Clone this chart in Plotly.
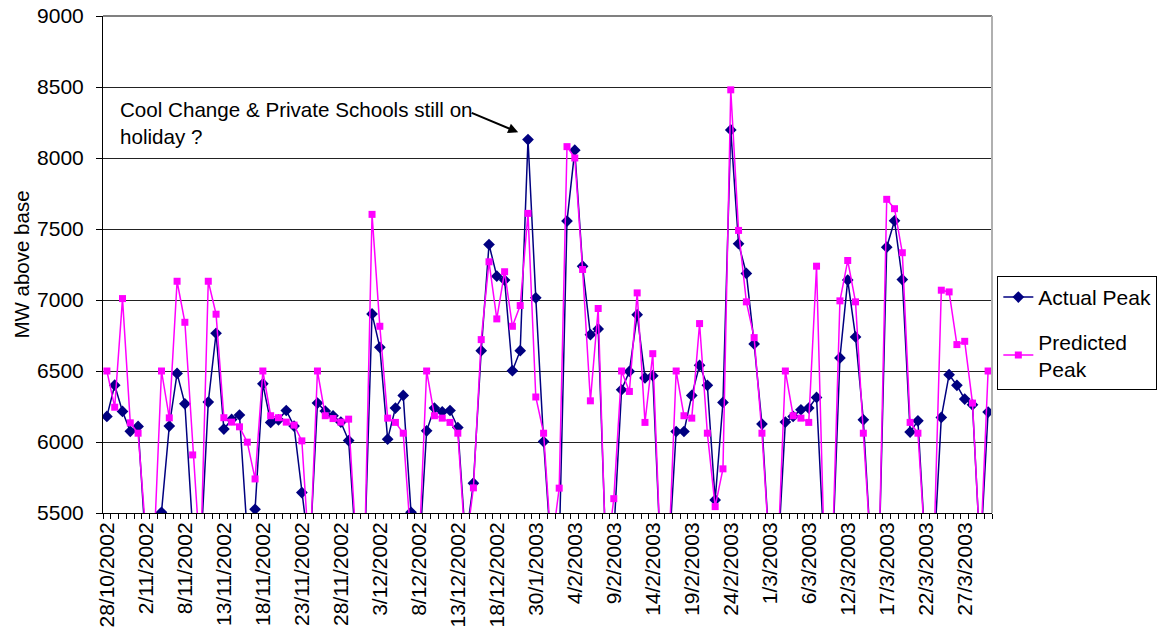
import plotly.graph_objects as go

# Daily peak demand (MW above base), one entry per reporting day
actual_peak = [
    6180, 6400, 6215, 6075, 6110, 5250, 5150, 5505, 6112, 6483,
    6269, 5380, 5200, 6281, 6766, 6091, 6159, 6190, 5350, 5526,
    6410, 6138, 6156, 6222, 6112, 5644, 5200, 6274, 6218, 6185,
    6140, 6010, 5200, 5150, 6902, 6667, 6020, 6239, 6328, 5505,
    5150, 6079, 6239, 6213, 6222, 6102, 5300, 5710, 6643, 7391,
    7168, 7140, 6502, 6643, 8130, 7015, 6003, 5200, 5250, 7556,
    8055, 7238, 6756, 6796, 5200, 5350, 6368, 6497, 6897, 6451,
    6467, 5200, 5150, 6074, 6074, 6328, 6540, 6399, 5592, 6279,
    8198, 7396, 7187, 6691, 6126, 5200, 5150, 6140, 6180, 6227,
    6239, 6314, 5200, 5150, 6592, 7140, 6740, 6156, 5200, 5150,
    7372, 7558, 7144, 6070, 6149, 5200, 5150, 6173, 6474, 6399,
    6302, 6262, 5200, 6211,
]

predicted_peak = [
    6500, 6245, 7010, 6135, 6062, 5350, 5200, 6500, 6170, 7132,
    6843, 5909, 5150, 7132, 6900, 6171, 6140, 6107, 5999, 5740,
    6500, 6185, 6171, 6140, 6119, 6008, 5150, 6500, 6185, 6165,
    6140, 6161, 5250, 5100, 7603, 6815, 6168, 6138, 6062, 5300,
    5200, 6500, 6185, 6168, 6138, 6062, 5250, 5677, 6721, 7269,
    6867, 7199, 6815, 6961, 7610, 6317, 6062, 5250, 5675, 8080,
    8000, 7215, 6290, 6940, 5150, 5601, 6500, 6356, 7050, 6138,
    6622, 5200, 5150, 6500, 6185, 6168, 6834, 6062, 5545, 5811,
    8480, 7490, 6987, 6735, 6062, 5200, 5150, 6500, 6185, 6168,
    6138, 7238, 5200, 5150, 6994, 7278, 6987, 6062, 5200, 5150,
    7709, 7643, 7333, 6138, 6062, 5200, 5150, 7069, 7057, 6686,
    6709, 6274, 5200, 6500,
]

# Date labels shown on every fifth day
date_labels = [
    "28/10/2002", "2/11/2002", "8/11/2002", "13/11/2002", "18/11/2002",
    "23/11/2002", "28/11/2002", "3/12/2002", "8/12/2002", "13/12/2002",
    "18/12/2002", "30/1/2003", "4/2/2003", "9/2/2003", "14/2/2003",
    "19/2/2003", "24/2/2003", "1/3/2003", "6/3/2003", "12/3/2003",
    "17/3/2003", "22/3/2003", "27/3/2003",
]
label_step = 5

FONT = "Liberation Sans, Arial, sans-serif"
days = list(range(len(actual_peak)))

fig = go.Figure()
fig.add_trace(go.Scatter(
    x=days, y=actual_peak, mode="lines+markers", name="Actual Peak",
    legendgroup="a",
    line=dict(color="#000080", width=1.5),
    marker=dict(symbol="diamond", size=9, color="#000080"),
))
fig.add_trace(go.Scatter(
    x=days, y=predicted_peak, mode="lines+markers", name="Predicted<br>Peak",
    legendgroup="p",
    line=dict(color="#FF00FF", width=1.5),
    marker=dict(symbol="square", size=7, color="#FF00FF"),
))

fig.update_layout(
    width=1164, height=636,
    margin=dict(l=103, r=172, t=16, b=123, autoexpand=False),
    paper_bgcolor="white", plot_bgcolor="white",
    font=dict(family=FONT, size=21, color="black"),
    showlegend=True,
    legend=dict(
        x=1.006, y=0.477, xanchor="left", yanchor="top",
        bordercolor="black", borderwidth=1, bgcolor="white",
        font=dict(family=FONT, size=21, color="black"),
        tracegroupgap=14, traceorder="grouped",
    ),
    xaxis=dict(
        range=[-0.5, len(days) - 0.5],
        tickmode="array",
        tickvals=[i * label_step for i in range(len(date_labels))],
        ticktext=date_labels,
        tickangle=-90,
        ticks="",
        automargin=False,
        showgrid=False, zeroline=False,
        showline=True, linecolor="black", linewidth=1,
        tickfont=dict(family=FONT, size=21, color="black"),
        minor=dict(tickmode="linear", tick0=-0.5, dtick=1,
                   ticks="outside", ticklen=5, tickcolor="black",
                   tickwidth=1, showgrid=False),
    ),
    yaxis=dict(
        range=[5500, 9000], tick0=5500, dtick=500,
        showgrid=True, gridcolor="#222222", gridwidth=1,
        zeroline=False, automargin=False,
        showline=True, linecolor="black", linewidth=1,
        ticks="outside", ticklen=6, tickcolor="black",
        ticklabelstandoff=8,
        tickfont=dict(family=FONT, size=21, color="black"),
        title=dict(text="MW above base", standoff=1,
                   font=dict(family=FONT, size=20.5, color="black")),
    ),
    shapes=[
        dict(type="line", xref="paper", yref="paper", x0=0, x1=1, y0=1, y1=1,
             line=dict(color="#808080", width=2)),
        dict(type="line", xref="paper", yref="paper", x0=1, x1=1, y0=0, y1=1,
             line=dict(color="#B0B0B0", width=2)),
    ],
    annotations=[
        dict(text="Cool Change & Private Schools still on<br>holiday ?",
             xref="paper", yref="paper", x=0.017, y=0.784,
             xanchor="left", yanchor="middle", align="left",
             showarrow=False,
             font=dict(family=FONT, size=20.6, color="black")),
        dict(text="", xref="x", yref="y", x=52.74, y=8181,
             ax=-48, ay=-20, showarrow=True,
             arrowhead=2, arrowsize=1, arrowwidth=2, arrowcolor="black"),
    ],
)

fig.write_html("out.html")
